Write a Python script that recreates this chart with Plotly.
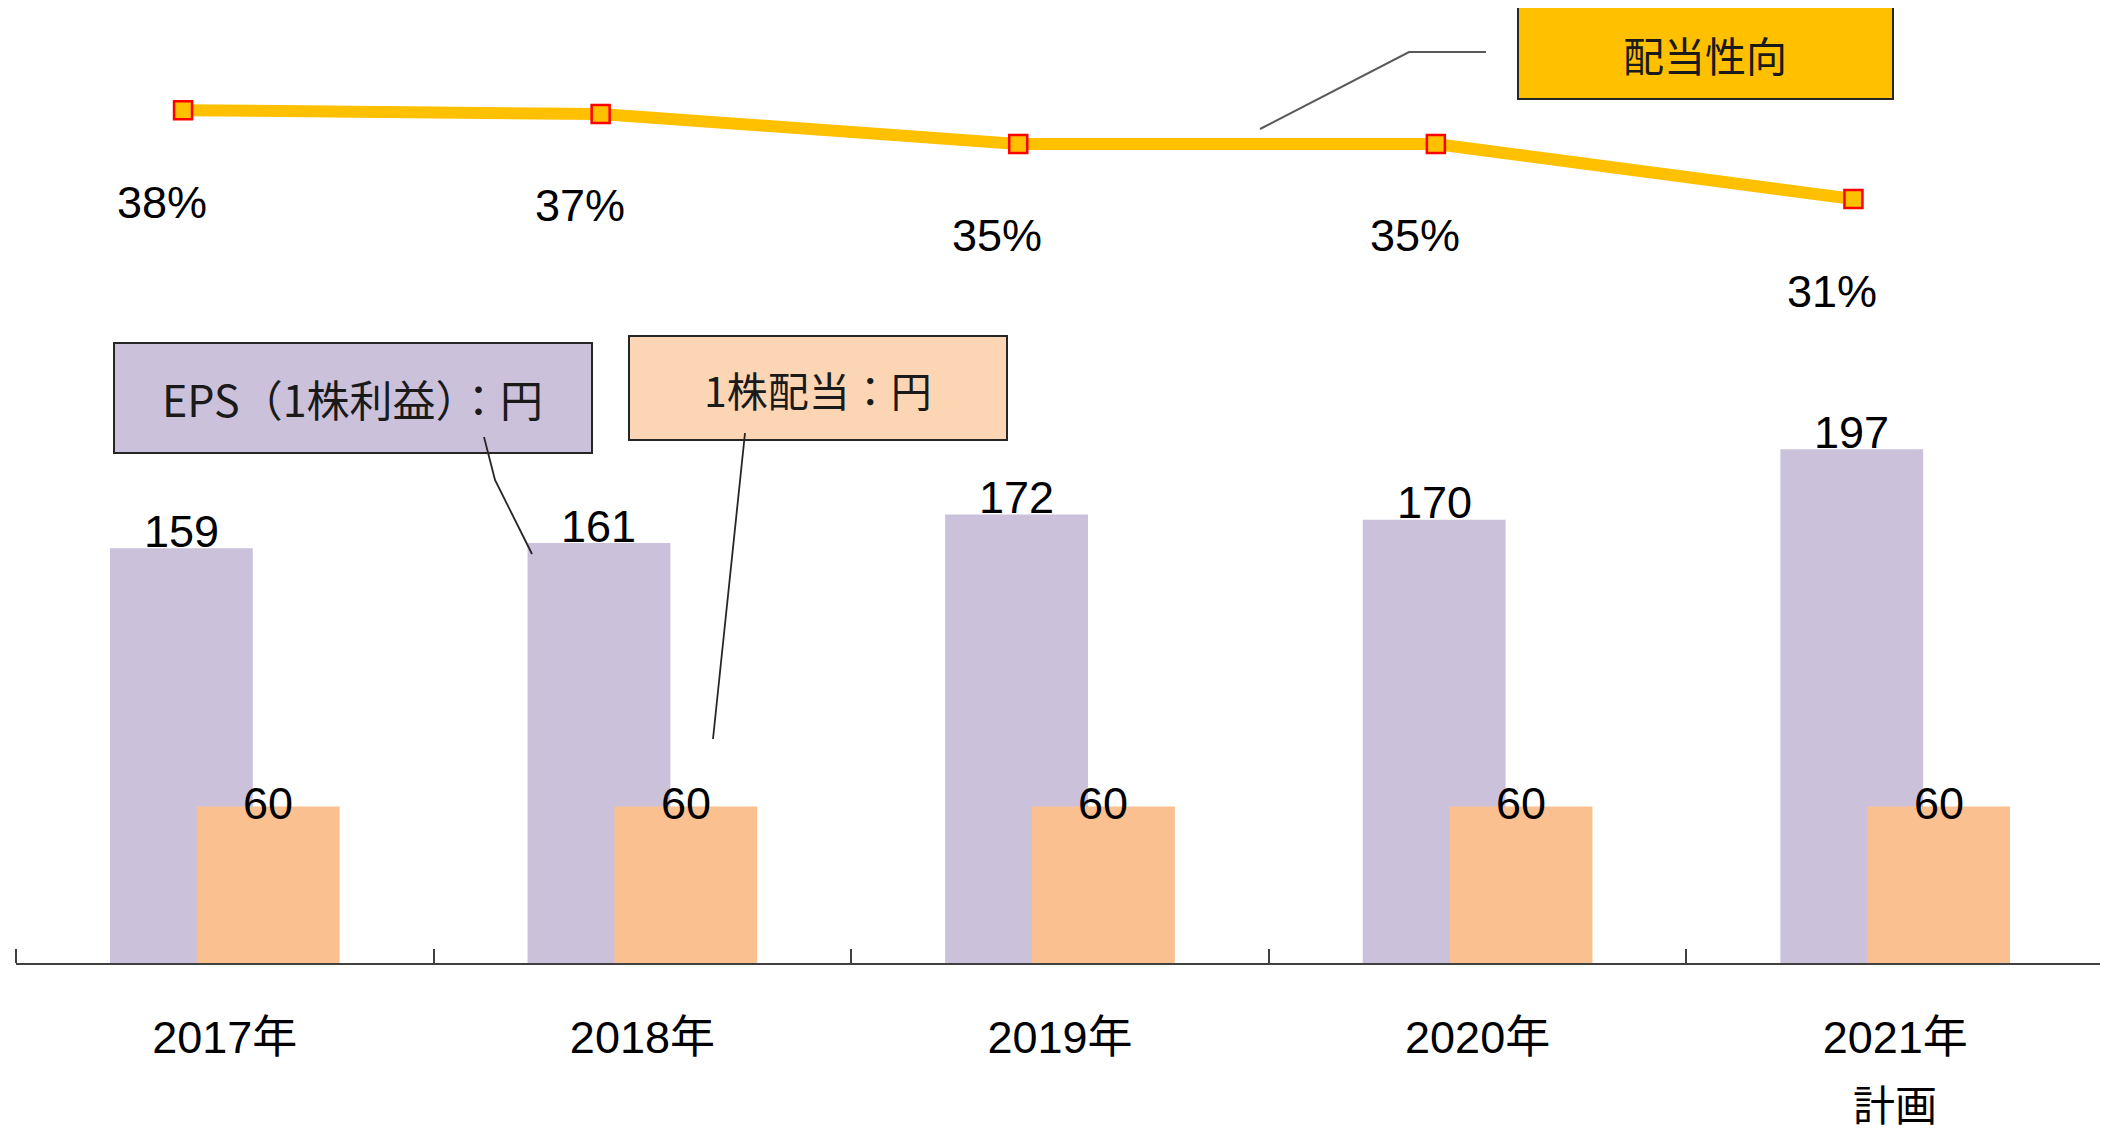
import plotly.graph_objects as go

# ---- data ----
years = ["2017年", "2018年", "2019年", "2020年", "2021年"]
plan_note = ["", "", "", "", "計画"]
eps = [159, 161, 172, 170, 197]
dividend = [60, 60, 60, 60, 60]
payout = [37.7, 37.4, 35.0, 35.0, 30.6]

eps_name = "EPS（1株利益）：円"
div_name = "1株配当：円"
payout_name = "配当性向"

# ---- style ----
W, H = 2108, 1133
OFF = 8                      # page body margin in the browser
ML, MT = 8, 0
PW, PH = 2088, 955
MR, MB = W - ML - PW, H - MT - PH
EPS_COLOR = "#CCC1DA"
DIV_COLOR = "#FAC090"
DIV_BOX = "#FCD5B5"
LINE_COLOR = "#FFC000"
NUM_FONT = "Liberation Sans, Arial, sans-serif"
CJK_FONT = "Noto Sans CJK JP, sans-serif"
BAR_W = 0.342
CAT_PX = PW / len(years)


def P(x, y):
    """page pixel -> paper coordinates"""
    return (x - OFF - ML) / PW, 1 - (y - OFF - MT) / PH


fig = go.Figure()
fig.add_trace(go.Bar(x=years, y=eps, name=eps_name, marker_color=EPS_COLOR,
                     width=BAR_W, offset=-0.275, marker_line_width=0))
fig.add_trace(go.Bar(x=years, y=dividend, name=div_name, marker_color=DIV_COLOR,
                     width=BAR_W, offset=-0.067, marker_line_width=0))
fig.add_trace(go.Scatter(x=years, y=payout, name=payout_name, xaxis="x2", yaxis="y2",
                         mode="lines+markers",
                         line=dict(color=LINE_COLOR, width=12),
                         marker=dict(symbol="square", size=18, color=LINE_COLOR,
                                     line=dict(color="#FF0000", width=2.5)),
                         cliponaxis=False))

ann = []
eps_c = (-0.275 + BAR_W / 2) * CAT_PX
div_c = (-0.067 + BAR_W / 2) * CAT_PX
for yr, v in zip(years, eps):
    ann.append(dict(x=yr, y=v, xref="x", yref="y", text=str(v), showarrow=False,
                    xshift=eps_c, yshift=17, yanchor="middle",
                    font=dict(family=NUM_FONT, size=45, color="#000")))
for yr, v in zip(years, dividend):
    ann.append(dict(x=yr, y=v, xref="x", yref="y", text=str(v), showarrow=False,
                    xshift=div_c, yshift=3, yanchor="middle",
                    font=dict(family=NUM_FONT, size=45, color="#000")))
for yr, v in zip(years, payout):
    ann.append(dict(x=yr, y=v, xref="x2", yref="y2", text=f"{v:.0f}%", showarrow=False,
                    xshift=-21, yshift=-92, yanchor="middle",
                    font=dict(family=NUM_FONT, size=45, color="#000")))
for yr, note in zip(years, plan_note):
    if note:
        ann.append(dict(x=yr, y=P(0, 1106)[1], xref="x", yref="paper", text=note,
                        showarrow=False, yanchor="middle",
                        font=dict(family=NUM_FONT + ", Noto Sans CJK JP", size=42, color="#000")))

shapes = []


def box(x0, y0, x1, y1, fill, text, tx, ty, size):
    a0, b0 = P(x0, y1)
    a1, b1 = P(x1, y0)
    shapes.append(dict(type="rect", xref="paper", yref="paper", x0=a0, y0=b0, x1=a1, y1=b1,
                       fillcolor=fill, line=dict(color="#262626", width=2), layer="above"))
    cx, cy = P(tx, ty)
    ann.append(dict(x=cx, y=cy, xref="paper", yref="paper", text=text, showarrow=False,
                    xanchor="center", yanchor="middle",
                    font=dict(family=CJK_FONT, size=size, color="#1a1a1a")))


def path(points, color="#262626", width=1.8):
    d = ""
    for i, (x, y) in enumerate(points):
        a, b = P(x, y)
        d += ("M" if i == 0 else " L") + f" {a:.5f},{b:.5f}"
    shapes.append(dict(type="path", xref="paper", yref="paper", path=d,
                       line=dict(color=color, width=width), layer="above"))


box(114, 343, 592, 453, EPS_COLOR, eps_name, 352, 398, 43)
box(629, 336, 1007, 440, DIV_BOX, div_name, 818, 389, 41)
box(1518, 7, 1893, 99, LINE_COLOR, payout_name, 1705, 54, 41)
path([(484, 437), (495, 480), (532, 554)])
path([(745, 433), (713, 739)])
path([(1486, 52), (1409, 52), (1260, 129)], color="#595959", width=2)
# end ticks of the category axis (left and right boundaries)
for xe in (0, 1):
    shapes.append(dict(type="line", xref="paper", yref="paper", x0=xe, x1=xe,
                       y0=0, y1=14 / PH, line=dict(color="#404040", width=2)))

fig.update_layout(
    width=W, height=H,
    margin=dict(l=ML, r=MR, t=MT, b=MB),
    paper_bgcolor="white", plot_bgcolor="white",
    barmode="overlay", showlegend=False,
    xaxis=dict(type="category", showline=True, linecolor="#404040", linewidth=2,
               ticks="inside", tickson="boundaries", ticklen=14, tickwidth=2,
               tickcolor="#404040", showgrid=False, zeroline=False,
               tickfont=dict(family=NUM_FONT + ", Noto Sans CJK JP", size=45, color="#000"),
               ticklabelstandoff=34),
    yaxis=dict(range=[0, 955 / 2.608], visible=False, showgrid=False, zeroline=False),
    xaxis2=dict(type="category", overlaying="x", range=[-0.4, 4.6], visible=False),
    yaxis2=dict(overlaying="y", range=[-30.47, 45.87], visible=False),
    annotations=ann, shapes=shapes,
)

fig.write_html("out.html")
